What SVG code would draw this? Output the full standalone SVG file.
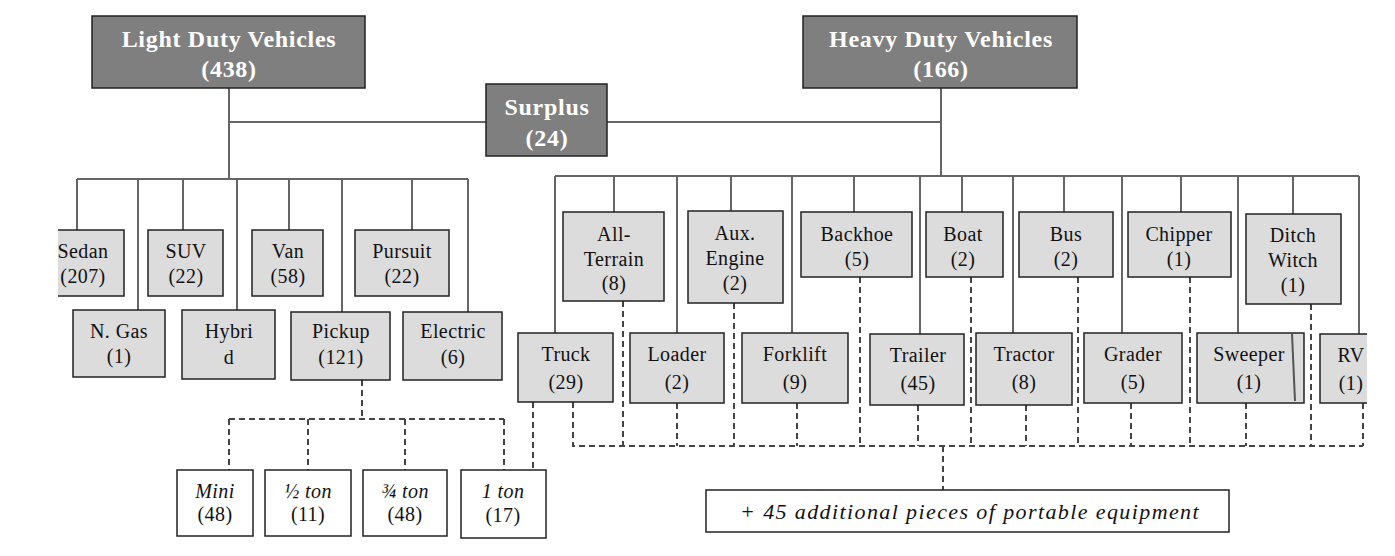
<svg xmlns="http://www.w3.org/2000/svg" width="1395" height="556" viewBox="0 0 1395 556">
<style>
.dk{fill:#7f7f7f;stroke:#222;stroke-width:1.5}
.lt{fill:#dcdcdc;stroke:#222;stroke-width:1.5}
.wh{fill:#fff;stroke:#222;stroke-width:1.5}
.tt{font-size:24px;font-weight:bold;fill:#fff;letter-spacing:0.7px;text-anchor:middle}
.t{font-size:20px;fill:#111;letter-spacing:0.4px;text-anchor:middle}
.it{font-style:italic}
.sol{fill:none;stroke:#666;stroke-width:2}
.dsh{fill:none;stroke:#444;stroke-width:2;stroke-dasharray:6,4}
</style>
<defs>
<clipPath id="view"><rect x="58" y="0" width="1309" height="556"/></clipPath>
</defs>
<rect width="1395" height="556" fill="#fff"/>
<g clip-path="url(#view)" font-family="Liberation Serif, Times New Roman, Tinos, DejaVu Serif, Noto Serif, serif">
<g id="connectors">
<path class="sol" d="M229 88V179M229 122H486M607 122H941M941 88V176M77 179H468M77 179V230M138 179V310M183 179V230M237 179V310M289 179V230M342 179V312M412 179V230M468 179V312M555 176H1359M555 176V333M614 176V212M677 176V333M731 176V211M792 176V333M854 176V212M920 176V334M962 176V212M1013 176V333M1064 176V212M1122 176V333M1181 176V212M1238 176V333M1293 176V214M1359 176V334"/>
<path class="dsh" d="M362 380V419M229 419H504M229 419V470M308 419V470M405 419V470M504 419V470M533 402V470M573 402V446H1363M623 301V446M677 403V446M734 303V446M797 403V446M860 277V446M918 405V446M971 277V446M1026 405V446M1078 277V446M1131 403V446M1190 277V446M1246 403V446M1311 304V446M1363 403V446M943 446V490"/>
</g>
<g id="ldv"><rect class="dk" x="92" y="16" width="273" height="72"/><text class="tt" x="229" y="47">Light Duty Vehicles</text><text class="tt" x="229" y="77">(438)</text></g>
<g id="surplus"><rect class="dk" x="486" y="84" width="121" height="72"/><text class="tt" x="547" y="115">Surplus</text><text class="tt" x="547" y="146">(24)</text></g>
<g id="hdv"><rect class="dk" x="803" y="16" width="274" height="72"/><text class="tt" x="941" y="47">Heavy Duty Vehicles</text><text class="tt" x="941" y="77">(166)</text></g>

<g id="sedan"><rect class="lt" x="44" y="230" width="80" height="66"/><text class="t" x="83" y="258">Sedan</text><text class="t" x="83" y="283">(207)</text></g>
<g id="suv"><rect class="lt" x="148" y="230" width="75" height="66"/><text class="t" x="186" y="258">SUV</text><text class="t" x="186" y="283">(22)</text></g>
<g id="van"><rect class="lt" x="252" y="230" width="71" height="66"/><text class="t" x="288" y="258">Van</text><text class="t" x="288" y="283">(58)</text></g>
<g id="pursuit"><rect class="lt" x="355" y="230" width="94" height="66"/><text class="t" x="402" y="258">Pursuit</text><text class="t" x="402" y="283">(22)</text></g>
<g id="ngas"><rect class="lt" x="73" y="310" width="92" height="67"/><text class="t" x="119" y="338">N. Gas</text><text class="t" x="119" y="363">(1)</text></g>
<g id="hybrid"><rect class="lt" x="182" y="310" width="93" height="69"/><text class="t" x="229" y="338">Hybri</text><text class="t" x="229" y="364">d</text></g>
<g id="pickup"><rect class="lt" x="291" y="312" width="99" height="68"/><text class="t" x="341" y="338">Pickup</text><text class="t" x="341" y="364">(121)</text></g>
<g id="electric"><rect class="lt" x="403" y="312" width="99" height="68"/><text class="t" x="453" y="338">Electric</text><text class="t" x="453" y="364">(6)</text></g>

<g id="mini"><rect class="wh" x="177" y="470" width="76" height="66"/><text class="t it" x="215" y="498">Mini</text><text class="t" x="215" y="521">(48)</text></g>
<g id="halfton"><rect class="wh" x="265" y="470" width="86" height="66"/><text class="t it" x="308" y="498">½ ton</text><text class="t" x="308" y="521">(11)</text></g>
<g id="threeqton"><rect class="wh" x="363" y="470" width="84" height="66"/><text class="t it" x="405" y="498">¾ ton</text><text class="t" x="405" y="521">(48)</text></g>
<g id="oneton"><rect class="wh" x="461" y="470" width="85" height="68"/><text class="t it" x="503" y="498">1 ton</text><text class="t" x="503" y="522">(17)</text></g>

<g id="allterrain"><rect class="lt" x="563" y="212" width="101" height="89"/><text class="t" x="614" y="241">All-</text><text class="t" x="614" y="266">Terrain</text><text class="t" x="614" y="290">(8)</text></g>
<g id="auxengine"><rect class="lt" x="688" y="211" width="95" height="92"/><text class="t" x="735" y="240">Aux.</text><text class="t" x="735" y="265">Engine</text><text class="t" x="735" y="290">(2)</text></g>
<g id="backhoe"><rect class="lt" x="801" y="212" width="111" height="65"/><text class="t" x="857" y="241">Backhoe</text><text class="t" x="857" y="266">(5)</text></g>
<g id="boat"><rect class="lt" x="926" y="212" width="77" height="65"/><text class="t" x="963" y="241">Boat</text><text class="t" x="963" y="266">(2)</text></g>
<g id="bus"><rect class="lt" x="1019" y="212" width="94" height="65"/><text class="t" x="1066" y="241">Bus</text><text class="t" x="1066" y="266">(2)</text></g>
<g id="chipper"><rect class="lt" x="1128" y="212" width="103" height="65"/><text class="t" x="1179" y="241">Chipper</text><text class="t" x="1179" y="266">(1)</text></g>
<g id="ditchwitch"><rect class="lt" x="1246" y="214" width="95" height="90"/><text class="t" x="1293" y="242">Ditch</text><text class="t" x="1293" y="267">Witch</text><text class="t" x="1293" y="292">(1)</text></g>

<g id="truck"><rect class="lt" x="518" y="333" width="95" height="69"/><text class="t" x="566" y="361">Truck</text><text class="t" x="566" y="389">(29)</text></g>
<g id="loader"><rect class="lt" x="630" y="333" width="94" height="70"/><text class="t" x="677" y="361">Loader</text><text class="t" x="677" y="389">(2)</text></g>
<g id="forklift"><rect class="lt" x="742" y="333" width="106" height="70"/><text class="t" x="795" y="361">Forklift</text><text class="t" x="795" y="389">(9)</text></g>
<g id="trailer"><rect class="lt" x="870" y="334" width="94" height="71"/><text class="t" x="918" y="362">Trailer</text><text class="t" x="918" y="390">(45)</text></g>
<g id="tractor"><rect class="lt" x="976" y="333" width="96" height="72"/><text class="t" x="1024" y="361">Tractor</text><text class="t" x="1024" y="389">(8)</text></g>
<g id="grader"><rect class="lt" x="1084" y="333" width="98" height="70"/><text class="t" x="1133" y="361">Grader</text><text class="t" x="1133" y="389">(5)</text></g>
<g id="sweeper"><rect class="lt" x="1197" y="333" width="107" height="70"/><line x1="1292" y1="334" x2="1295" y2="401" stroke="#555" stroke-width="2"/><text class="t" x="1249" y="361">Sweeper</text><text class="t" x="1249" y="389">(1)</text></g>
<g id="rv"><rect class="lt" x="1320" y="334" width="70" height="69"/><text class="t" x="1351" y="362">RV</text><text class="t" x="1351" y="390">(1)</text></g>

<g id="portable"><rect class="wh" x="706" y="490" width="523" height="42"/><text class="t it" x="740" y="519" style="text-anchor:start;font-size:22px" textLength="459" lengthAdjust="spacing">+ 45 additional pieces of portable equipment</text></g>
</g>
</svg>
